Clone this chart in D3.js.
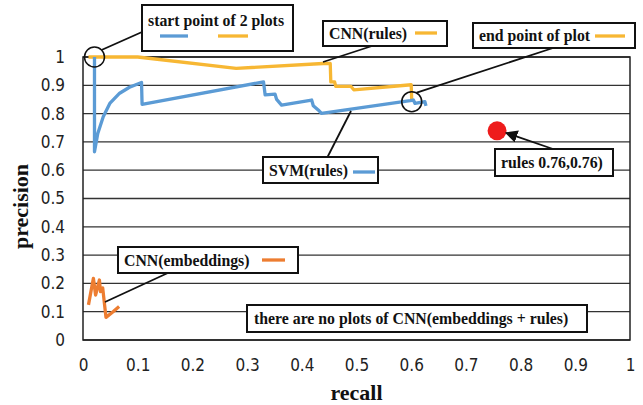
<!DOCTYPE html>
<html>
<head>
<meta charset="utf-8">
<script src="https://cdn.jsdelivr.net/npm/d3@7"></script>
<style>
  html, body { margin: 0; padding: 0; background: #fff; }
  svg { display: block; }
  .tick-label { font-family: "DejaVu Sans", sans-serif; font-stretch: condensed; font-size: 17px; fill: #222; }
  .serif { font-family: "Liberation Serif", "Times New Roman", serif; font-weight: bold; fill: #111; }
</style>
</head>
<body>
<svg id="chart" width="643" height="405"></svg>
<script>
// ---- data ----
const xTicks = [0, 0.1, 0.2, 0.3, 0.4, 0.5, 0.6, 0.7, 0.8, 0.9, 1];
const yTicks = [0, 0.1, 0.2, 0.3, 0.4, 0.5, 0.6, 0.7, 0.8, 0.9, 1];

const svmRecall    = [0.021, 0.021, 0.027, 0.037, 0.049, 0.067, 0.085, 0.107, 0.108, 0.330, 0.333, 0.351, 0.354, 0.363, 0.418, 0.421, 0.430, 0.436, 0.598, 0.604, 0.607, 0.625, 0.627];
const svmPrecision = [1.000, 0.665, 0.730, 0.789, 0.836, 0.872, 0.893, 0.910, 0.833, 0.912, 0.866, 0.869, 0.850, 0.830, 0.848, 0.828, 0.813, 0.801, 0.846, 0.848, 0.836, 0.842, 0.827];

const cnnRulesRecall    = [0.010, 0.100, 0.280, 0.439, 0.452, 0.453, 0.460, 0.462, 0.490, 0.495, 0.600, 0.601];
const cnnRulesPrecision = [1.000, 1.000, 0.960, 0.977, 0.977, 0.912, 0.912, 0.896, 0.896, 0.884, 0.902, 0.842];

const cnnEmbRecall    = [0.010, 0.019, 0.023, 0.030, 0.032, 0.036, 0.042, 0.055, 0.066];
const cnnEmbPrecision = [0.124, 0.218, 0.159, 0.212, 0.171, 0.184, 0.080, 0.100, 0.118];

const rulesPoint = [0.757, 0.739];
const startPoint = [0.021, 1.0];
const endPoint   = [0.601, 0.842];

const colors = { svm: "#5b9bd5", cnnRules: "#f7b733", cnnEmb: "#ed7d31", rules: "#ee1c1c" };

// ---- layout ----
const svg = d3.select("#chart");
const m = { left: 83, right: 13, top: 57, bottom: 65 };
const W = 643, H = 405;
const x = d3.scaleLinear().domain([0, 1]).range([m.left, W - m.right]);
const y = d3.scaleLinear().domain([0, 1]).range([H - m.bottom, m.top]);

// gridlines
svg.append("g").selectAll("line").data(yTicks).join("line")
  .attr("x1", x(0)).attr("x2", x(1))
  .attr("y1", d => y(d)).attr("y2", d => y(d))
  .attr("stroke", "#333").attr("stroke-width", 1.3);

// frame
svg.append("rect").attr("x", x(0)).attr("y", y(1))
  .attr("width", x(1) - x(0)).attr("height", y(0) - y(1))
  .attr("fill", "none").attr("stroke", "#222").attr("stroke-width", 1.5);

// axes (labels only)
const yAxis = d3.axisLeft(y).tickValues(yTicks).tickSize(0).tickPadding(18).tickFormat(d3.format("~g"));
const gy = svg.append("g").attr("transform", `translate(${x(0)},0)`).call(yAxis);
gy.select(".domain").remove();
gy.selectAll("text").attr("class", "tick-label");

const xAxis = d3.axisBottom(x).tickValues(xTicks).tickSize(0).tickPadding(19).tickFormat(d3.format("~g"));
const gx = svg.append("g").attr("transform", `translate(0,${y(0)})`).call(xAxis);
gx.select(".domain").remove();
gx.selectAll("text").attr("class", "tick-label");

// axis titles
svg.append("text").attr("class", "serif").attr("x", (x(0) + x(1)) / 2).attr("y", 400)
  .attr("text-anchor", "middle").attr("font-size", 22).text("recall");
svg.append("text").attr("class", "serif")
  .attr("transform", `translate(28,${(y(0) + y(1)) / 2 + 8}) rotate(-90)`)
  .attr("text-anchor", "middle").attr("font-size", 22).text("precision");

// series
const line = d3.line().x(d => x(d[0])).y(d => y(d[1]));
function drawSeries(rx, py, color) {
  svg.append("path").datum(d3.zip(rx, py)).attr("d", line)
    .attr("fill", "none").attr("stroke", color).attr("stroke-width", 3.3)
    .attr("stroke-linejoin", "round").attr("stroke-linecap", "butt");
}
drawSeries(cnnRulesRecall, cnnRulesPrecision, colors.cnnRules);
drawSeries(svmRecall, svmPrecision, colors.svm);
drawSeries(cnnEmbRecall, cnnEmbPrecision, colors.cnnEmb);

// red point
svg.append("circle").attr("cx", x(rulesPoint[0])).attr("cy", y(rulesPoint[1])).attr("r", 9.5)
  .attr("fill", colors.rules);

// circles marking start / end
[startPoint, endPoint].forEach(p => {
  svg.append("circle").attr("cx", x(p[0])).attr("cy", y(p[1])).attr("r", 10)
    .attr("fill", "none").attr("stroke", "#111").attr("stroke-width", 1.5);
});

// leader lines
function leader(x1, y1, x2, y2) {
  svg.append("line").attr("x1", x1).attr("y1", y1).attr("x2", x2).attr("y2", y2)
    .attr("stroke", "#111").attr("stroke-width", 1.8);
}
leader(x(startPoint[0]) + 7, y(startPoint[1]) - 7, 142, 32);
leader(323, 62, 372, 46);
leader(x(endPoint[0]) + 5, y(endPoint[1]) - 9, 553, 48);
leader(351, 111, 327, 158);
leader(105, 302, 170, 272);

// red point arrow
svg.append("defs").append("marker").attr("id", "arrow").attr("viewBox", "0 0 10 10")
  .attr("refX", 9).attr("refY", 5).attr("markerWidth", 7).attr("markerHeight", 7)
  .attr("orient", "auto-start-reverse")
  .append("path").attr("d", "M0,0 L10,5 L0,10 z").attr("fill", "#111");
svg.append("line").attr("x1", 553).attr("y1", 149).attr("x2", x(rulesPoint[0]) + 9).attr("y2", y(rulesPoint[1]) + 2)
  .attr("stroke", "#111").attr("stroke-width", 1.8).attr("marker-end", "url(#arrow)");

// annotation boxes
function box(x0, y0, w, h) {
  svg.append("rect").attr("x", x0).attr("y", y0).attr("width", w).attr("height", h)
    .attr("fill", "#fff").attr("stroke", "#111").attr("stroke-width", 2);
}
function label(tx, ty, txt, size) {
  svg.append("text").attr("class", "serif").attr("x", tx).attr("y", ty)
    .attr("font-size", size || 15.8).text(txt);
}
function swatch(x1, x2, yy, color) {
  svg.append("line").attr("x1", x1).attr("x2", x2).attr("y1", yy).attr("y2", yy)
    .attr("stroke", color).attr("stroke-width", 3.3);
}

box(142, 5, 151, 46);
label(148, 26, "start point of 2 plots");
swatch(160, 188, 36, colors.svm);
swatch(218, 248, 36, colors.cnnRules);

box(323, 21, 124, 25);
label(329, 39, "CNN(rules)");
swatch(415, 437, 33, colors.cnnRules);

box(473, 23, 162, 25);
label(479, 41, "end point of plot");
swatch(595, 625, 36, colors.cnnRules);

box(263, 157, 115, 26);
label(269, 176, "SVM(rules)");
swatch(353, 375, 172, colors.svm);

box(495, 149, 118, 27);
label(501, 168, "rules 0.76,0.76)");

box(118, 247, 180, 26);
label(124, 266, "CNN(embeddings)");
swatch(262, 285, 260, colors.cnnEmb);

box(247, 305, 340, 27);
label(254, 324, "there are no plots of CNN(embeddings + rules)");
</script>
</body>
</html>
